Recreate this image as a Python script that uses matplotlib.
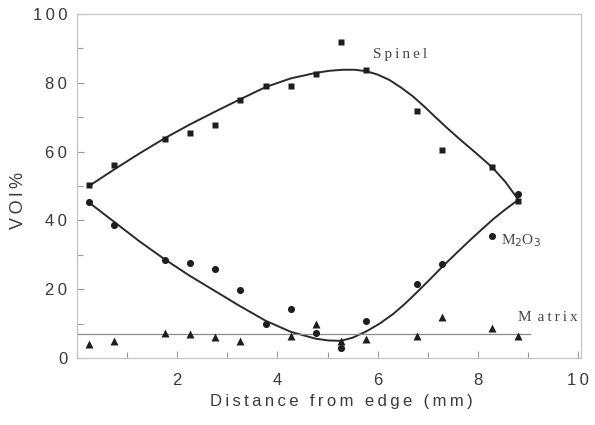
import numpy as np
import matplotlib
matplotlib.use("Agg")
import matplotlib.pyplot as plt
from matplotlib.ticker import MultipleLocator, FixedLocator

# measured points
dist = [0.23, 0.74, 1.75, 2.25, 2.75, 3.26, 3.77, 4.27, 4.77, 5.27, 5.77, 6.79, 7.29, 8.29, 8.81]
spinel = [50.3, 56.1, 63.8, 65.3, 67.7, 75.1, 79.1, 79.0, 82.6, 91.9, 83.6, 71.7, 60.5, 55.6, 45.6]
m2o3 = [45.5, 38.6, 28.6, 27.5, 26.0, 19.7, 10.0, 14.3, 7.2, 2.8, 10.8, 21.5, 27.4, 35.6, 47.6]
matrix_x = [0.23, 0.74, 1.75, 2.25, 2.75, 3.26, 4.27, 4.77, 5.27, 5.77, 6.79, 7.29, 8.29, 8.81]
matrix = [4.0, 5.0, 7.2, 6.9, 6.2, 5.0, 6.5, 9.9, 5.0, 5.5, 6.5, 11.9, 8.7, 6.4]

# fitted curves
spinel_fit_x = [0.24, 0.74, 1.24, 1.74, 2.24, 2.74, 3.24, 3.77, 4.27, 4.77, 5.04, 5.31, 5.54,
                5.77, 6.00, 6.24, 6.47, 6.71, 6.94, 7.17, 7.40, 7.64, 7.97, 8.29, 8.55, 8.81]
spinel_fit = [50.0, 54.8, 59.4, 63.8, 67.8, 71.5, 75.1, 78.8, 81.3, 82.9, 83.5, 83.8, 83.8,
              83.4, 82.4, 80.8, 78.6, 76.0, 73.0, 69.8, 66.7, 63.6, 59.5, 55.4, 51.2, 46.0]
m2o3_fit_x = [0.24, 0.74, 1.24, 1.74, 2.24, 2.74, 3.24, 3.77, 4.27, 4.77, 5.02, 5.27, 5.50,
              5.77, 6.04, 6.31, 6.54, 6.77, 7.04, 7.31, 7.58, 7.84, 8.08, 8.31, 8.55, 8.81]
m2o3_fit = [45.2, 39.6, 34.0, 28.8, 24.0, 19.6, 15.2, 10.8, 7.6, 5.6, 5.1, 5.0, 5.9,
            7.7, 10.0, 12.8, 15.7, 18.9, 22.8, 26.8, 30.6, 34.2, 37.4, 40.4, 43.2, 46.0]
matrix_level = 6.9

fig = plt.figure(figsize=(5.95, 4.25), dpi=100)
ax = fig.add_axes([0.1294, 0.1576, 0.8471, 0.8094])

ink = '#1e1e1e'
ax.plot(spinel_fit_x, spinel_fit, color='#2a2a2a', lw=1.4, solid_capstyle='round', solid_joinstyle='round')
ax.plot(m2o3_fit_x, m2o3_fit, color='#2a2a2a', lw=1.4, solid_capstyle='round', solid_joinstyle='round')
ax.plot([0, 9.04], [matrix_level, matrix_level], color='#8a8a8a', lw=0.9)

ax.plot(dist, spinel, 's', color=ink, ms=4.9, mec='none')
ax.plot(dist, m2o3, 'o', color=ink, ms=5.1, mec='none')
ax.plot(matrix_x, matrix, '^', color=ink, ms=5.4, mec='none')

ax.set_xlim(0, 10.06)
ax.set_ylim(0, 100)

sp = '\u2009'
sans = ['Liberation Sans', 'DejaVu Sans']
xt = [2, 4, 6, 8, 10]
yt = [0, 20, 40, 60, 80, 100]
ax.xaxis.set_major_locator(FixedLocator(xt))
ax.yaxis.set_major_locator(FixedLocator(yt))
ax.set_xticklabels([sp.join(str(v)) for v in xt])
ax.set_yticklabels([sp.join(str(v)) for v in yt])
ax.xaxis.set_minor_locator(MultipleLocator(1))
ax.yaxis.set_minor_locator(MultipleLocator(10))
ax.tick_params(which='both', direction='in', colors='#9a9a9a', labelcolor='#3a3a3a', width=0.8)
ax.tick_params(which='major', length=5, labelsize=12)
ax.tick_params(axis='x', which='major', pad=11)
ax.tick_params(axis='y', which='major', pad=7)
ax.tick_params(which='minor', length=4)
for lab in ax.get_xticklabels() + ax.get_yticklabels():
    lab.set_family(sans)

for s in ax.spines.values():
    s.set_color('#c4c4c4')
    s.set_linewidth(0.9)

ax.set_xlabel(sp.join('Distance from edge (mm)'), fontsize=12, color='#3a3a3a',
              family=sans, labelpad=3)
ax.xaxis.set_label_coords(0.525, -0.105)
ax.set_ylabel(sp.join('VOl%'), fontsize=13, color='#3a3a3a', family=sans)
ax.yaxis.set_label_coords(-0.099, 0.459)

serif = ['Liberation Serif', 'DejaVu Serif']
ax.text(5.9, 88.2, sp.join('Spinel'), fontsize=11, color='#444444', family=serif, va='center')
ax.text(8.47, 34.2, 'M$_2$O$_3$', fontsize=11, color='#444444', family=serif, va='center')
ax.text(8.8, 11.8, 'M' + sp + sp + sp.join('atrix'), fontsize=11, color='#444444', family=serif, va='center')

fig.savefig('out.png', dpi=100)
